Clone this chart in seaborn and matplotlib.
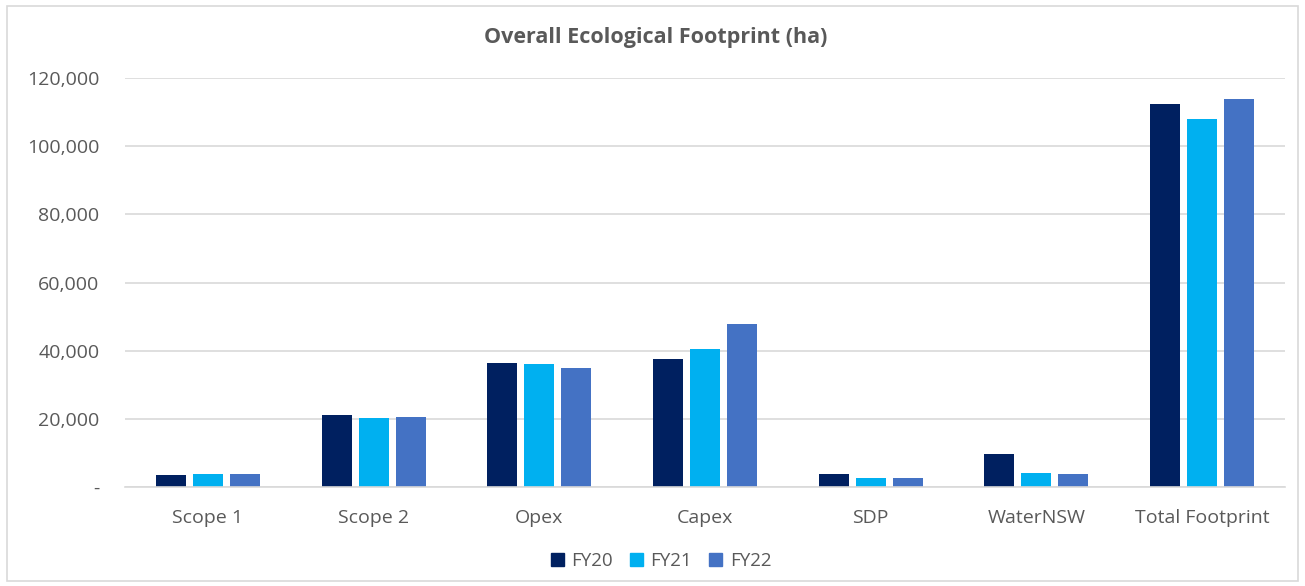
import matplotlib
matplotlib.use("Agg")
import matplotlib.pyplot as plt
import matplotlib.patches as mpatches
from matplotlib.ticker import FuncFormatter
import seaborn as sns
import pandas as pd

categories = ["Scope 1", "Scope 2", "Opex", "Capex", "SDP", "WaterNSW", "Total Footprint"]
fy20 = [3450, 21000, 36400, 37500, 3900, 9800, 112500]
fy21 = [3700, 20100, 36100, 40600, 2600, 4200, 107900]
fy22 = [3700, 20400, 34900, 47800, 2600, 3900, 113800]
series_names = ["FY20", "FY21", "FY22"]
colors = ["#002060", "#00B0F0", "#4472C4"]
y_ticks = [0, 20000, 40000, 60000, 80000, 100000, 120000]

rows = []
for name, vals in zip(series_names, [fy20, fy21, fy22]):
    for c, v in zip(categories, vals):
        rows.append({"Category": c, "Year": name, "Value": v})
df = pd.DataFrame(rows)

sns.set_theme(style="white")
plt.rcParams["font.family"] = ["Open Sans", "DejaVu Sans"]

fig = plt.figure(figsize=(13.05, 5.86), dpi=100)
ax = fig.add_axes([125/1305, 1 - 487/586, (1285 - 125)/1305, (487 - 78)/586])

sns.barplot(data=df, x="Category", y="Value", hue="Year", palette=colors,
            order=categories, hue_order=series_names, width=0.67, gap=0.19,
            ax=ax, errorbar=None, edgecolor="none", saturation=1)

ax.set_ylim(0, 120000)
ax.set_yticks(y_ticks)
ax.yaxis.set_major_formatter(FuncFormatter(lambda v, p: "-" if v == 0 else f"{int(v):,}"))
ax.grid(axis="y", color="#D9D9D9", linewidth=1.2)
ax.set_axisbelow(True)
for s in ["left", "right", "top"]:
    ax.spines[s].set_visible(False)
ax.spines["bottom"].set_color("#D9D9D9")
ax.spines["bottom"].set_linewidth(1.2)
ax.tick_params(axis="y", length=0, pad=18.5, labelsize=14, labelcolor="#595959")
ax.tick_params(axis="x", length=0, pad=16, labelsize=14, labelcolor="#595959")
ax.set_xlabel("")
ax.set_ylabel("")

fig.text(656/1305, 1 - 38/586, "Overall Ecological Footprint (ha)", ha="center", va="center",
         fontsize=15.5, fontweight="bold", color="#595959")

handles = [mpatches.Patch(color=c, label=n) for c, n in zip(colors, series_names)]
if ax.legend_:
    ax.legend_.remove()
leg = fig.legend(handles=handles, loc="center", bbox_to_anchor=(661/1305, 1 - 561/586),
                 ncol=3, frameon=False, fontsize=13.5, handlelength=0.7, handleheight=0.7,
                 columnspacing=0.9, handletextpad=0.4)
for t in leg.get_texts():
    t.set_color("#595959")

border = mpatches.Rectangle((7/1305, 1 - 581/586), (1298 - 7)/1305, (581 - 6)/586,
                            transform=fig.transFigure, fill=False, edgecolor="#D9D9D9",
                            linewidth=1.2)
fig.patches.append(border)

fig.savefig("out.png", dpi=100)
